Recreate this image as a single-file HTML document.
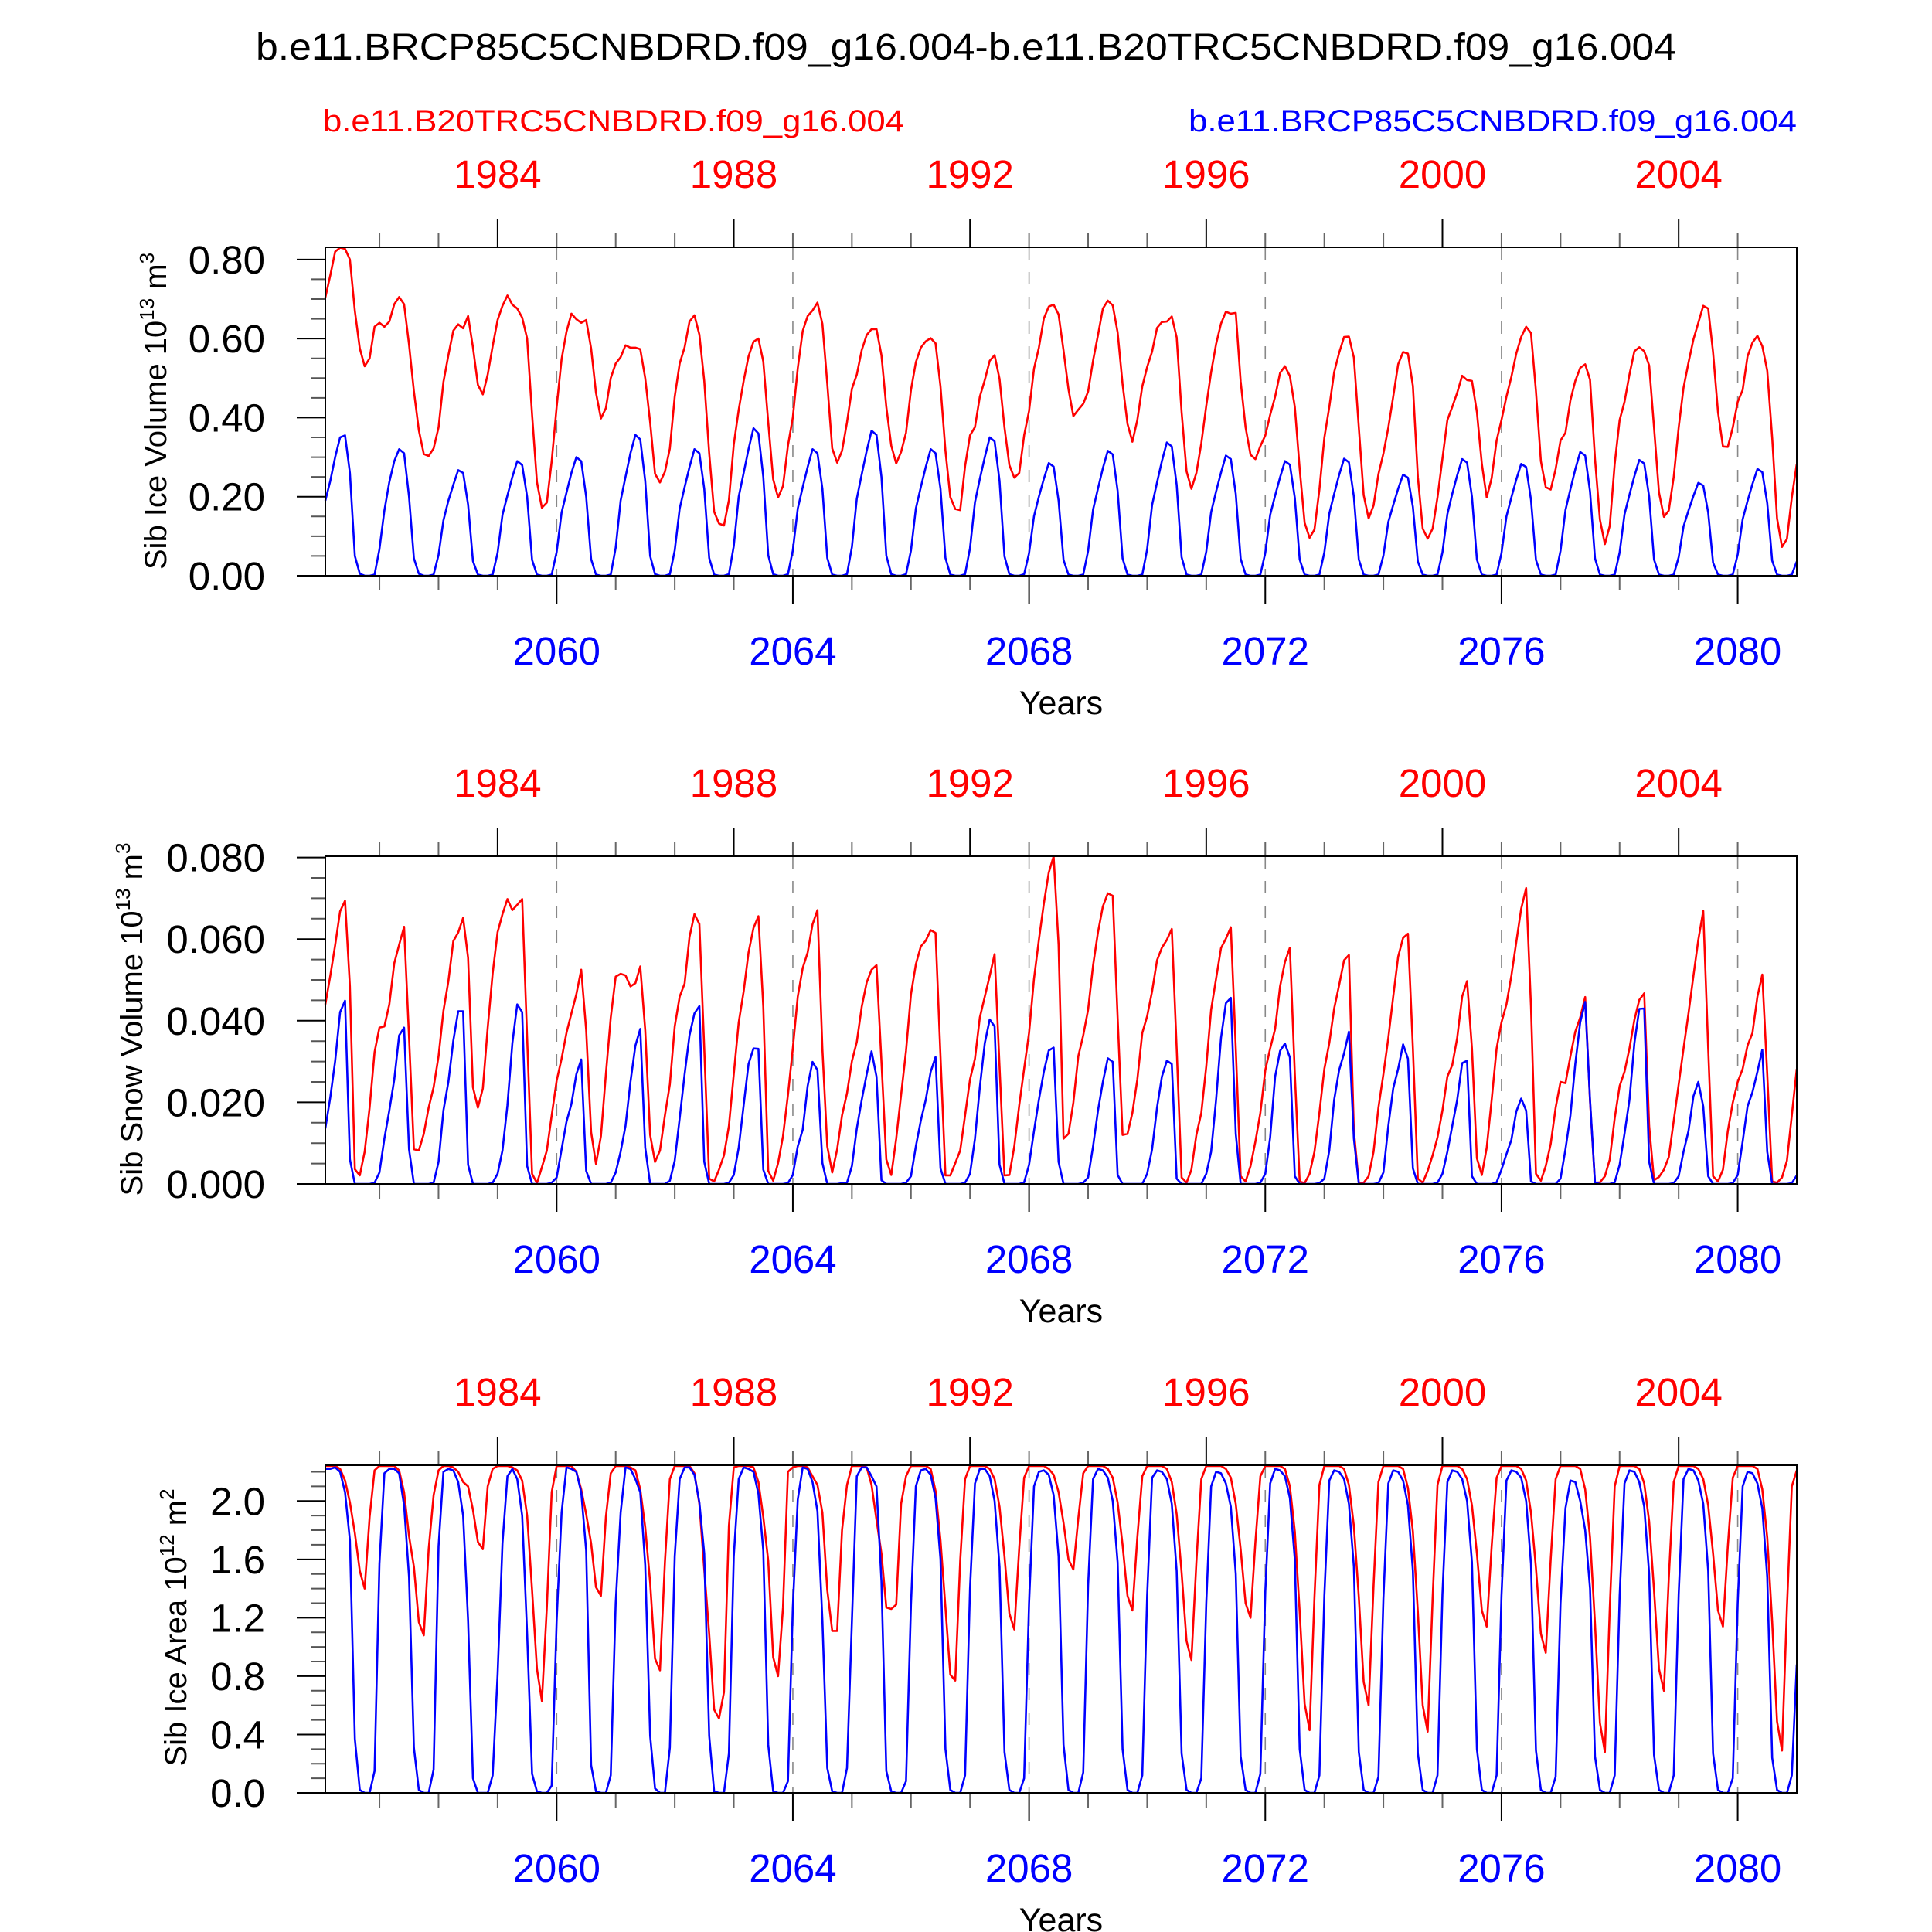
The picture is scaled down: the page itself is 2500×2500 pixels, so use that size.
<!DOCTYPE html>
<html><head><meta charset="utf-8"><title>Sib Ice chart</title>
<style>
html,body{margin:0;padding:0;background:#fff;}
svg{display:block;font-family:"Liberation Sans",Arial,sans-serif;}
</style></head>
<body>
<svg id="chart" xmlns="http://www.w3.org/2000/svg" width="2500" height="2500" viewBox="0 0 2500 2500">
<rect x="0" y="0" width="2500" height="2500" fill="#fff"/>
<text x="1250" y="77" font-size="48" text-anchor="middle" textLength="1838" lengthAdjust="spacingAndGlyphs" fill="#000">b.e11.BRCP85C5CNBDRD.f09_g16.004-b.e11.B20TRC5CNBDRD.f09_g16.004</text>
<text x="418" y="170" font-size="40" textLength="752" lengthAdjust="spacingAndGlyphs" fill="#ff0000">b.e11.B20TRC5CNBDRD.f09_g16.004</text>
<text x="2325" y="170" font-size="40" text-anchor="end" textLength="787" lengthAdjust="spacingAndGlyphs" fill="#0000ff">b.e11.BRCP85C5CNBDRD.f09_g16.004</text>
<text transform="translate(215,532) rotate(-90)" font-size="40" text-anchor="middle">Sib Ice Volume 10<tspan font-size="26" dy="-16">13</tspan><tspan dy="16"> m</tspan><tspan font-size="26" dy="-16">3</tspan></text>
<text transform="translate(184,1319) rotate(-90)" font-size="40" text-anchor="middle">Sib Snow Volume 10<tspan font-size="26" dy="-16">13</tspan><tspan dy="16"> m</tspan><tspan font-size="26" dy="-16">3</tspan></text>
<text transform="translate(241,2106) rotate(-90)" font-size="40" text-anchor="middle">Sib Ice Area 10<tspan font-size="26" dy="-16">12</tspan><tspan dy="16"> m</tspan><tspan font-size="26" dy="-16">2</tspan></text>
</svg>
<script>
// ---- data (monthly, 300 points, Feb 2056 .. Dec 2080 / red run 1981..2005) ----
const iceRed = [
.704,.76,.82,.83,.827,.80,.67,.575,.53,.55,.63,.64,
.63,.643,.687,.705,.687,.585,.467,.368,.308,.303,.322,.375,
.49,.558,.62,.636,.626,.657,.578,.483,.459,.509,.581,.647,
.683,.709,.686,.676,.653,.60,.408,.237,.172,.185,.29,.427,
.548,.617,.663,.649,.64,.647,.575,.463,.398,.424,.50,.537,
.553,.583,.577,.577,.573,.50,.388,.258,.236,.263,.322,.453,
.537,.578,.643,.659,.61,.493,.31,.162,.132,.127,.191,.332,
.42,.493,.555,.592,.60,.542,.388,.244,.198,.227,.329,.40,
.525,.619,.657,.671,.691,.637,.486,.322,.286,.316,.388,.473,
.509,.571,.609,.624,.624,.558,.427,.329,.284,.313,.362,.47,
.54,.577,.593,.601,.588,.479,.316,.199,.169,.166,.277,.355,
.376,.453,.495,.544,.558,.498,.375,.28,.248,.26,.355,.417,
.524,.577,.651,.681,.686,.661,.57,.472,.404,.42,.435,.466,
.544,.609,.676,.696,.684,.616,.485,.384,.339,.394,.479,.528,
.567,.627,.642,.643,.656,.603,.414,.264,.22,.26,.335,.43,
.515,.586,.638,.668,.663,.665,.492,.375,.306,.295,.328,.355,
.407,.453,.513,.53,.505,.427,.27,.134,.096,.117,.218,.349,
.427,.515,.564,.604,.605,.552,.375,.204,.145,.178,.257,.309,
.375,.453,.535,.566,.562,.48,.25,.119,.094,.119,.198,.296,
.394,.427,.463,.506,.495,.493,.414,.283,.198,.247,.342,.394,
.453,.503,.562,.604,.63,.614,.467,.29,.224,.218,.27,.342,
.362,.444,.493,.526,.535,.496,.296,.142,.08,.126,.283,.394,
.44,.509,.568,.578,.568,.532,.375,.211,.149,.165,.25,.375,
.476,.539,.598,.64,.683,.676,.565,.414,.327,.326,.375,.44,
.47,.555,.59,.607,.581,.519,.349,.145,.073,.093,.198,.283];
const iceBlue = [
.19,.24,.30,.35,.355,.26,.05,.005,0,0,.003,.067,
.165,.237,.29,.32,.31,.2,.044,.005,0,0,.003,.053,
.14,.19,.23,.267,.26,.18,.037,.003,0,0,.003,.058,
.154,.203,.25,.29,.28,.2,.04,.003,0,0,.003,.06,
.16,.21,.26,.30,.29,.2,.042,.003,0,0,.003,.071,
.19,.25,.31,.356,.345,.24,.05,.004,0,0,.004,.064,
.17,.224,.275,.32,.31,.22,.045,.003,0,0,.004,.075,
.2,.26,.32,.373,.36,.25,.052,.004,0,0,.004,.064,
.17,.224,.275,.32,.31,.22,.045,.003,0,0,.004,.073,
.195,.257,.316,.367,.356,.25,.051,.004,0,0,.004,.064,
.17,.224,.275,.32,.31,.22,.045,.003,0,0,.004,.07,
.186,.245,.3,.35,.34,.24,.049,.004,0,0,.004,.057,
.151,.2,.245,.285,.276,.19,.04,.003,0,0,.003,.063,
.167,.221,.272,.316,.307,.215,.044,.003,0,0,.003,.067,
.179,.236,.29,.337,.327,.23,.047,.003,0,0,.003,.061,
.161,.213,.261,.304,.295,.207,.043,.003,0,0,.003,.058,
.154,.203,.249,.29,.281,.197,.041,.003,0,0,.003,.059,
.157,.207,.255,.296,.287,.2,.041,.003,0,0,.003,.051,
.136,.179,.22,.256,.248,.174,.036,.003,0,0,.003,.059,
.156,.207,.254,.295,.286,.2,.041,.003,0,0,.003,.057,
.15,.198,.243,.283,.275,.192,.04,.003,0,0,.003,.063,
.166,.219,.269,.313,.304,.213,.044,.003,0,0,.003,.059,
.155,.205,.252,.293,.284,.2,.041,.003,0,0,.003,.047,
.125,.165,.202,.235,.228,.16,.033,.003,0,0,.003,.054,
.143,.189,.232,.27,.262,.184,.038,.003,0,0,.003,.036];
// snow volume in units of 0.001 x 10^13 m^3
const snowRed = [
44,51,58.5,66.8,69.4,48.4,3.6,2.1,7.9,18.7,32.3,38.3,
38.6,44,54.1,58.6,63,36,8.5,8.2,12.3,18.7,23.7,31.3,
42.4,49.7,59.5,61.6,65.2,55.4,23.7,18.7,23.4,38.3,51.6,61.7,
66.1,69.8,67.1,68.4,69.8,35.8,2.5,0.2,4.1,8.2,16.8,25.3,
30.7,37,41.8,46.5,52.5,37.7,12.7,4.9,11.7,26.9,40.8,50.8,
51.5,51.1,48.4,49.2,53.3,37.7,12,5.4,8.2,16.8,24.4,38.6,
45.9,49.1,60.5,66.1,63.7,33.2,1.3,0.6,3.5,7,14.2,26.9,
39.6,47.2,56.7,62.7,65.6,43.4,3.2,0.8,5.1,11.7,21.8,33.2,
45.9,52.9,56.7,63.6,67.1,33,9.2,2.8,8.5,16.8,22.2,30.1,
34.8,43.4,49.4,52.5,53.6,30,6,2.2,11.1,21.8,32.6,46.5,
53.8,58.2,59.6,62.2,61.5,31.3,2.1,2.1,5.1,8.2,16.8,25.6,
30.7,40.8,45.9,51,56.3,28.8,2.1,2.2,9.2,19.3,28.2,37,
50.3,59.8,68.7,76.3,80.3,58.6,11.1,12.3,19.9,31.3,36.4,42.7,
53.5,61.7,68,71.2,70.6,40.8,12,12.3,17.4,25.6,37,41.1,
47.2,54.8,57.9,59.8,62.5,33.2,1.6,0.3,3.5,12,17.4,28.8,
42.7,50.3,57.8,60.1,62.9,33.2,1.9,0.6,4.4,10.4,17.4,27.9,
33.2,38,48.4,54.4,57.9,26.9,0.6,0.2,2.5,7.9,17.4,28.2,
34.5,43,48.7,54.8,56.1,13,0.3,0.3,1.9,7.9,18.7,26.9,
35.8,45.9,55.7,60.3,61.3,33.2,1.3,0.3,3.2,7,11.4,18,
26.3,29.1,35.8,45.9,49.7,33.2,6.3,2.2,8.9,20.6,33.2,39.6,
44,51,59.2,67.4,72.5,43.4,2.5,0.8,4.4,9.8,18.7,25,
24.7,31.3,37.3,40.8,45.8,20.2,0.3,0.4,1.9,6,16.1,24,
27.5,33.2,40.2,45.1,46.7,14.2,0.9,1.7,3.5,6.6,15.5,24.4,
33.2,41.8,51,59.8,66.9,33.2,1.9,0.6,3.5,13,19.9,25,
28.2,33.9,37,45.9,51.3,26.9,0.6,0.3,1.6,5.7,16.8,28.2];
const snowBlue = [
13.6,21.2,30.1,42.1,44.9,6,0,0,0,0,0.3,2.8,
11.1,18,25.6,36.4,38.3,8.5,0,0,0,0,0.3,5.4,
18,25,35.1,42.3,42.3,4.7,0,0,0,0,0.3,2.5,
8.2,19.3,34.5,44,42.1,4.4,0,0,0,0,0.3,1.6,
8.5,15.2,19.6,26.9,30.5,3.2,0,0,0,0,0.3,2.8,
7.9,14.2,25,33.9,38,8.9,0,0,0,0,0.8,5.7,
16.1,26.9,36.4,41.8,43.6,5.4,0,0,0,0,0.3,2.2,
8.9,19.3,29.4,33.2,33.1,3.5,0,0,0,0,0.2,2.2,
9.2,13.3,24,29.9,27.9,5.1,0,0,0,0.2,0.3,4.4,
13.6,20.6,26.9,32.5,26.3,0.9,0,0,0,0,0.3,1.9,
9.2,15.5,20.6,27.5,31.1,3.8,0,0,0,0,0.3,2.5,
11.1,23.7,34.5,40.3,38.6,4.7,0,0,0,0,0.4,4.7,
13,20.6,27.5,32.7,33.4,5.4,0,0,0,0,0.3,1.6,
9.2,18,25,30.8,29.9,2.2,0,0,0,0,0,2.5,
8.5,18.7,26.3,30.2,29.4,1.3,0,0,0,0,0,2.5,
7.9,20.6,35.8,44.3,45.6,12.3,0,0,0,0,0.3,2.5,
11.4,26.3,32.6,34.4,31,1.9,0,0,0,0,0.2,1.3,
8.2,20.6,27.9,32,37.3,11.1,0,0,0,0,0.2,2.8,
14.2,23.4,28.2,34.2,30.7,3.8,0,0,0,0,0.3,2.5,
7.9,14.2,20.6,29.6,30.2,1.9,0,0,0,0,0.4,3.5,
7.3,10.8,17.7,20.9,18,0.6,0,0,0,0,0,1.3,
8.5,16.8,29.4,39.6,44.6,20.6,0.3,0,0,0,0.4,4.7,
12.3,20.6,34.5,42.9,43,5.4,0,0,0,0,0.2,1.9,
7.9,13,21.5,25,19,1.9,0,0,0,0,0.2,2.2,
10.4,19,22.5,27.5,32.9,7.9,0,0,0,0,0.2,2.1];
const areaRed = [
2.24,2.24,2.24,2.22,2.14,1.99,1.78,1.52,1.40,1.89,2.21,2.24,
2.24,2.24,2.24,2.21,2.06,1.76,1.55,1.17,1.08,1.67,2.04,2.21,
2.24,2.24,2.23,2.2,2.13,2.10,1.94,1.72,1.67,2.10,2.22,2.24,
2.24,2.24,2.23,2.21,2.14,1.9,1.39,0.85,0.63,1.27,2.06,2.24,
2.24,2.24,2.24,2.2,2.08,1.91,1.71,1.41,1.35,1.89,2.19,2.24,
2.24,2.24,2.23,2.21,2.08,1.82,1.44,0.92,0.84,1.58,2.15,2.24,
2.24,2.24,2.24,2.19,1.98,1.53,1.09,0.57,0.51,0.69,1.83,2.23,
2.24,2.24,2.24,2.23,2.13,1.89,1.59,0.93,0.8,1.27,2.2,2.23,
2.24,2.24,2.23,2.17,2.11,1.92,1.39,1.11,1.11,1.8,2.11,2.24,
2.24,2.24,2.23,2.11,1.87,1.64,1.27,1.26,1.29,1.98,2.17,2.24,
2.24,2.24,2.24,2.22,2.07,1.73,1.27,0.81,0.77,1.59,2.15,2.24,
2.24,2.24,2.24,2.22,2.15,1.96,1.62,1.23,1.12,1.68,2.16,2.24,
2.24,2.24,2.24,2.22,2.18,2.06,1.85,1.6,1.53,1.88,2.19,2.24,
2.24,2.24,2.24,2.22,2.16,1.99,1.70,1.35,1.25,1.75,2.17,2.24,
2.24,2.24,2.24,2.22,2.13,1.91,1.51,1.04,0.91,1.58,2.15,2.24,
2.24,2.24,2.24,2.22,2.16,1.98,1.67,1.30,1.2,1.72,2.17,2.24,
2.24,2.24,2.24,2.22,2.10,1.79,1.24,0.61,0.43,1.34,2.11,2.24,
2.24,2.24,2.24,2.22,2.11,1.83,1.34,0.76,0.6,1.42,2.13,2.24,
2.24,2.24,2.24,2.22,2.09,1.79,1.24,0.60,0.42,1.33,2.11,2.24,
2.24,2.24,2.24,2.22,2.15,1.97,1.64,1.25,1.14,1.69,2.16,2.24,
2.24,2.24,2.24,2.22,2.14,1.92,1.54,1.09,0.96,1.60,2.15,2.24,
2.24,2.24,2.24,2.22,2.08,1.75,1.16,0.48,0.28,1.26,2.10,2.24,
2.24,2.24,2.24,2.22,2.12,1.86,1.39,0.85,0.7,1.47,2.13,2.24,
2.24,2.24,2.24,2.22,2.15,1.97,1.64,1.25,1.14,1.69,2.16,2.24,
2.24,2.24,2.24,2.22,2.08,1.75,1.17,0.49,0.29,1.27,2.10,2.21];
const areaBlue = [
2.22,2.22,2.23,2.2,2.06,1.73,0.37,0.02,0,0,0.15,1.57,
2.19,2.22,2.22,2.19,1.97,1.48,0.31,0.02,0,0,0.16,1.69,
2.2,2.22,2.21,2.13,1.9,1.18,0.1,0,0,0,0.12,0.81,
1.71,2.17,2.22,2.15,1.9,1.09,0.13,0.01,0,0,0.05,1.18,
1.92,2.23,2.22,2.2,2.06,1.66,0.19,0.01,0,0,0.12,1.3,
1.92,2.23,2.22,2.15,2.06,1.56,0.39,0.03,0,0,0.31,1.62,
2.15,2.23,2.23,2.18,1.99,1.64,0.39,0.01,0,0,0.27,1.62,
2.15,2.23,2.22,2.2,2.05,1.66,0.33,0.01,0,0,0.08,1.27,
2.01,2.23,2.22,2.13,1.93,1.18,0.17,0.01,0,0,0.17,1.18,
2.17,2.23,2.23,2.17,2.1,1.45,0.15,0.01,0,0,0.08,1.29,
2.1,2.21,2.22,2.18,2.02,1.6,0.3,0.02,0,0,0.12,1.4,
2.12,2.22,2.22,2.17,2.0,1.55,0.28,0.02,0,0,0.1,1.3,
2.1,2.2,2.21,2.18,2.04,1.62,0.33,0.02,0,0,0.14,1.42,
2.15,2.22,2.21,2.16,2.0,1.58,0.3,0.02,0,0,0.12,1.35,
2.16,2.21,2.2,2.15,1.98,1.52,0.27,0.02,0,0,0.1,1.3,
2.1,2.2,2.19,2.12,1.96,1.5,0.25,0.02,0,0,0.13,1.38,
2.12,2.22,2.21,2.17,2.02,1.6,0.3,0.02,0,0,0.12,1.35,
2.14,2.21,2.2,2.15,1.98,1.55,0.28,0.02,0,0,0.11,1.33,
2.12,2.21,2.2,2.14,1.97,1.52,0.27,0.02,0,0,0.12,1.36,
2.13,2.21,2.2,2.15,2.0,1.58,0.3,0.02,0,0,0.12,1.35,
2.14,2.21,2.2,2.16,2.0,1.57,0.29,0.02,0,0,0.11,1.3,
1.95,2.14,2.13,2.0,1.8,1.4,0.25,0.02,0,0,0.12,1.35,
2.12,2.21,2.2,2.13,1.96,1.5,0.26,0.02,0,0,0.12,1.36,
2.15,2.22,2.21,2.14,1.98,1.52,0.27,0.02,0,0,0.1,1.3,
2.1,2.2,2.19,2.12,1.95,1.48,0.24,0.02,0,0,0.12,0.88];

const blueYears = [2057,2058,2059,2060,2061,2062,2063,2064,2065,2066,2067,2068,2069,2070,2071,2072,2073,2074,2075,2076,2077,2078,2079,2080];
const blueMajorLabels = ["2060","2064","2068","2072","2076","2080"];
const redYears = [1982,1983,1984,1985,1986,1987,1988,1989,1990,1991,1992,1993,1994,1995,1996,1997,1998,1999,2000,2001,2002,2003,2004,2005];
const redMajorLabels = ["1984","1988","1992","1996","2000","2004"];
const iceTicks = [0,0.2,0.4,0.6,0.8];
const iceTickLabels = ["0.00","0.20","0.40","0.60","0.80"];
const snowTicks = [0,20,40,60,80];
const snowTickLabels = ["0.000","0.020","0.040","0.060","0.080"];
const areaTicks = [0,0.4,0.8,1.2,1.6,2.0];
const areaTickLabels = ["0.0","0.4","0.8","1.2","1.6","2.0"];

const NS = "http://www.w3.org/2000/svg";
const svg = document.getElementById('chart');
const X0 = 421, X1 = 2325, N = 300;
function xIdx(i){ return X0 + i*(X1-X0)/(N-1); }
function xYear(y){ return xIdx((y-2056)*12-1); }           // blue calendar
function xRedYear(y){ return xYear(y+75); }                 // red calendar
function el(tag){ const e = document.createElementNS(NS, tag); svg.appendChild(e); return e; }
function line(x1,y1,x2,y2,stroke,w){ const l = el('line'); l.setAttribute('x1',x1); l.setAttribute('y1',y1); l.setAttribute('x2',x2); l.setAttribute('y2',y2); l.setAttribute('stroke',stroke); l.setAttribute('stroke-width',w); return l; }
function text(x,y,s,size,fill,anchor){ const t = el('text'); t.setAttribute('x',x); t.setAttribute('y',y); t.setAttribute('font-size',size); t.setAttribute('fill',fill); t.setAttribute('text-anchor',anchor); t.textContent = s; return t; }

const panels = [
  {key:'ice-volume', top:320, bottom:745, max:0.831, red:iceRed, blue:iceBlue, ticks:iceTicks, labels:iceTickLabels, minor:0.05},
  {key:'snow-volume', top:1108, bottom:1532, max:80.3, red:snowRed, blue:snowBlue, ticks:snowTicks, labels:snowTickLabels, minor:5},
  {key:'ice-area', top:1896, bottom:2320, max:2.245, red:areaRed, blue:areaBlue, ticks:areaTicks, labels:areaTickLabels, minor:0.1}
];

panels.forEach(function(p){
  const yv = function(v){ return p.bottom - v/p.max*(p.bottom-p.top); };
  // dashed grid at blue majors
  blueYears.forEach(function(y){
    if ((y-2060)%4===0){
      const d = line(xYear(y), p.top, xYear(y), p.bottom, '#888', 1.6);
      d.setAttribute('stroke-dasharray','16,16');
      
      
    }
  });
  // y ticks
  const nMinor = Math.round(p.max/p.minor);
  for (let k=0;k<=nMinor;k++){
    const v = k*p.minor;
    if (v > p.max + 1e-9) break;
    const isMajor = p.ticks.some(function(t){ return Math.abs(t-v) < 1e-6; });
    const tk = line(X0-(isMajor?37:19), yv(v), X0, yv(v), isMajor?'#000':'#555', 2);
    
    
  }
  p.ticks.forEach(function(t, idx){
    const lb = text(343, yv(t)+18, p.labels[idx], 51, '#000', 'end');
    
    
  });
  // x ticks: bottom (blue), top (red)
  blueYears.forEach(function(y){
    const maj = (y-2060)%4===0;
    const tk = line(xYear(y), p.bottom, xYear(y), p.bottom+(maj?36:19), maj?'#000':'#666', 2);
    
    
  });
  redYears.forEach(function(y){
    const maj = (y-1984)%4===0;
    const tk = line(xRedYear(y), p.top-(maj?36:19), xRedYear(y), p.top, maj?'#000':'#666', 2);
    
    
  });
  blueMajorLabels.forEach(function(s){
    const lb = text(xYear(+s), p.bottom+115, s, 51, '#0000ff', 'middle');
    
    
  });
  redMajorLabels.forEach(function(s){
    const lb = text(xRedYear(+s), p.top-77, s, 51, '#ff0000', 'middle');
    
    
  });
  const xt = text(1373, p.bottom+179, 'Years', 43, '#000', 'middle');
  
  
  // series
  [['red', p.red, '#ff0000'], ['blue', p.blue, '#0000ff']].forEach(function(s){
    const pts = s[1].map(function(v,i){ return xIdx(i).toFixed(1)+','+yv(v).toFixed(1); }).join(' ');
    const pl = el('polyline');
    pl.setAttribute('points', pts);
    pl.setAttribute('fill','none');
    pl.setAttribute('stroke', s[2]);
    pl.setAttribute('stroke-width', 2.6);
    pl.setAttribute('stroke-linejoin','round');
    
    
  });
  // frame
  const fr = el('rect');
  fr.setAttribute('x', X0); fr.setAttribute('y', p.top);
  fr.setAttribute('width', X1-X0); fr.setAttribute('height', p.bottom-p.top);
  fr.setAttribute('fill','none'); fr.setAttribute('stroke','#000'); fr.setAttribute('stroke-width', 2);
  
  
});
</script>
</body></html>
